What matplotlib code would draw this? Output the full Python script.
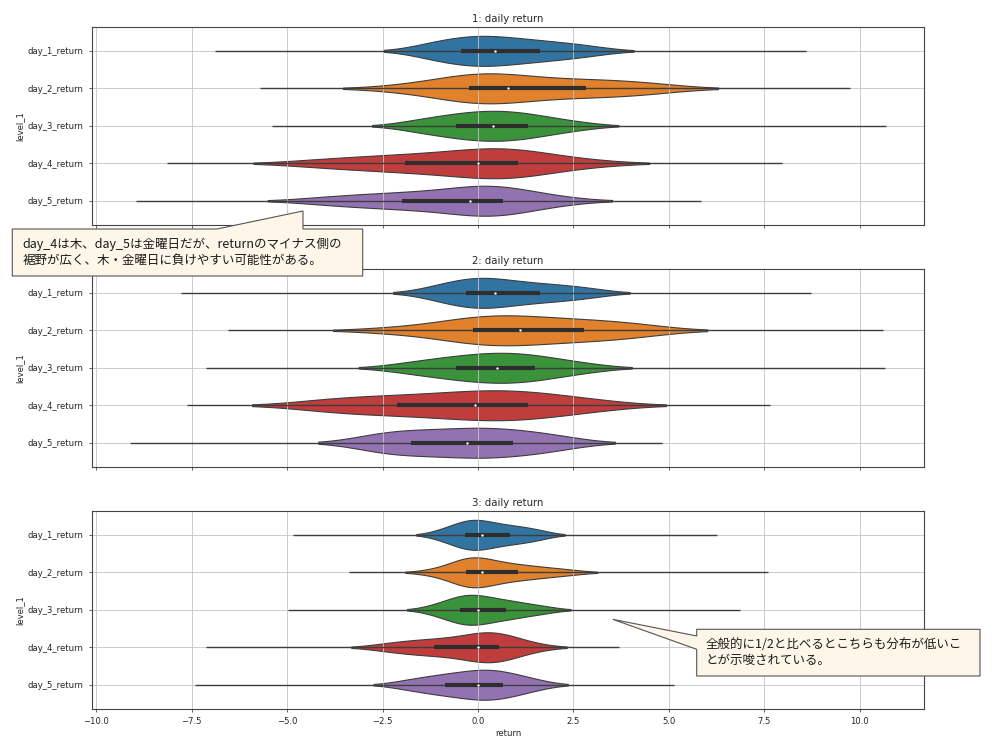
import numpy as np
import pandas as pd
import matplotlib
matplotlib.use("Agg")
import matplotlib.pyplot as plt
import seaborn as sns
from matplotlib.patches import Polygon

days = ["day_1_return", "day_2_return", "day_3_return", "day_4_return", "day_5_return"]
titles = ["1: daily return", "2: daily return", "3: daily return"]

# return at the 0, 5, 10, ..., 100 % quantiles of each day
g1_day_1 = [-6.88, -1.50, -1.15, -0.90, -0.66, -0.44, -0.25, -0.06, 0.11, 0.27, 0.44,
            0.66, 0.88, 1.11, 1.35, 1.61, 1.91, 2.24, 2.60, 3.10, 8.58]
g1_day_2 = [-5.72, -2.10, -1.16, -0.78, -0.49, -0.24, -0.01, 0.20, 0.40, 0.59, 0.78,
            1.16, 1.55, 1.95, 2.37, 2.83, 3.25, 3.70, 4.20, 4.85, 9.75]
g1_day_3 = [-5.41, -1.85, -1.40, -1.08, -0.81, -0.57, -0.36, -0.16, 0.02, 0.20, 0.38,
            0.55, 0.73, 0.91, 1.10, 1.31, 1.54, 1.81, 2.15, 2.75, 10.70]
g1_day_4 = [-8.15, -4.40, -3.55, -2.90, -2.38, -1.91, -1.48, -1.09, -0.72, -0.36, 0.00,
            0.20, 0.40, 0.60, 0.82, 1.05, 1.31, 1.62, 2.10, 3.00, 7.95]
g1_day_5 = [-8.96, -4.20, -3.45, -2.90, -2.42, -1.98, -1.58, -1.22, -0.87, -0.53, -0.20,
            -0.04, 0.12, 0.29, 0.47, 0.66, 0.88, 1.13, 1.55, 2.20, 5.85]

g2_day_1 = [-7.78, -1.30, -0.95, -0.70, -0.49, -0.31, -0.14, 0.01, 0.16, 0.30, 0.44,
            0.66, 0.89, 1.12, 1.37, 1.63, 1.93, 2.25, 2.62, 3.05, 8.72]
g2_day_2 = [-6.56, -2.40, -1.23, -0.79, -0.43, -0.13, 0.14, 0.39, 0.63, 0.86, 1.09,
            1.40, 1.72, 2.05, 2.40, 2.77, 3.15, 3.55, 4.00, 4.60, 10.60]
g2_day_3 = [-7.12, -2.10, -1.55, -1.18, -0.86, -0.59, -0.35, -0.12, 0.09, 0.30, 0.50,
            0.69, 0.87, 1.07, 1.28, 1.50, 1.75, 2.03, 2.40, 3.00, 10.66]
g2_day_4 = [-7.63, -4.30, -3.70, -3.15, -2.63, -2.12, -1.66, -1.24, -0.84, -0.45, -0.07,
            0.19, 0.45, 0.72, 1.01, 1.31, 1.66, 2.06, 2.56, 3.30, 7.66]
g2_day_5 = [-9.13, -3.00, -2.60, -2.30, -2.03, -1.76, -1.43, -1.13, -0.84, -0.56, -0.29,
            -0.06, 0.17, 0.40, 0.65, 0.92, 1.23, 1.55, 1.90, 2.40, 4.83]

g3_day_1 = [-4.86, -1.05, -0.76, -0.59, -0.46, -0.35, -0.25, -0.16, -0.07, 0.02, 0.10,
            0.24, 0.37, 0.51, 0.67, 0.83, 1.01, 1.20, 1.42, 1.70, 6.27]
g3_day_2 = [-3.39, -1.20, -0.68, -0.53, -0.41, -0.31, -0.22, -0.13, -0.05, 0.02, 0.10,
            0.28, 0.46, 0.64, 0.84, 1.05, 1.29, 1.56, 1.91, 2.42, 7.60]
g3_day_3 = [-4.98, -1.25, -0.91, -0.74, -0.60, -0.48, -0.37, -0.27, -0.18, -0.09, 0.00,
            0.14, 0.28, 0.42, 0.58, 0.74, 0.93, 1.14, 1.41, 1.81, 6.86]
g3_day_4 = [-7.12, -2.50, -2.05, -1.72, -1.43, -1.16, -0.90, -0.66, -0.44, -0.22, 0.00,
            0.10, 0.20, 0.31, 0.42, 0.54, 0.67, 0.83, 1.03, 1.50, 3.69]
g3_day_5 = [-7.41, -2.00, -1.60, -1.31, -1.08, -0.86, -0.67, -0.49, -0.32, -0.16, 0.00,
            0.12, 0.25, 0.38, 0.51, 0.66, 0.82, 1.02, 1.26, 1.61, 5.13]

groups = [[g1_day_1, g1_day_2, g1_day_3, g1_day_4, g1_day_5],
          [g2_day_1, g2_day_2, g2_day_3, g2_day_4, g2_day_5],
          [g3_day_1, g3_day_2, g3_day_3, g3_day_4, g3_day_5]]

note_1 = "day_4は木、day_5は金曜日だが、returnのマイナス側の\n裾野が広く、木・金曜日に負けやすい可能性がある。"
note_2 = "全般的に1/2と比べるとこちらも分布が低いこ\nとが示唆されている。"

plt.rcParams.update({
    "font.size": 6.1,
    "axes.titlesize": 7.3,
    "axes.labelsize": 6.1,
    "xtick.labelsize": 6.1,
    "ytick.labelsize": 6.1,
    "xtick.major.size": 2.2,
    "ytick.major.size": 2.2,
    "xtick.major.width": 0.6,
    "ytick.major.width": 0.6,
    "axes.labelpad": 2.4,
    "axes.titlepad": 3.7,
    "axes.linewidth": 0.8,
    "axes.edgecolor": "#444444",
    "text.color": "#262626",
    "axes.labelcolor": "#262626",
    "xtick.color": "#444444",
    "ytick.color": "#444444",
    "xtick.labelcolor": "#262626",
    "ytick.labelcolor": "#262626",
})

fig, axes = plt.subplots(3, 1, figsize=(10.08, 7.46), dpi=100, sharex=True)
fig.subplots_adjust(left=0.091, right=0.917, top=0.964, bottom=0.05, hspace=0.223)

line_color = "#3d3d3d"
pos = np.arange(len(days))
for ax, title, group in zip(axes, titles, groups):
    q = np.array(group)
    df = pd.DataFrame({"level_1": np.repeat(days, q.shape[1] - 2),
                       "return": q[:, 1:-1].ravel()})
    sns.violinplot(data=df, x="return", y="level_1", hue="level_1", legend=False,
                   inner=None, cut=1.5, bw_adjust=0.9, width=0.8, linewidth=0.8,
                   linecolor=line_color, ax=ax)
    # tails (min..max), box (q1..q3) and median
    ax.hlines(pos, q[:, 0], q[:, -1], color=line_color, lw=1.0, zorder=3)
    ax.hlines(pos, q[:, 5], q[:, 15], color="#2e2e2e", lw=3.0, zorder=3)
    ax.scatter(q[:, 10], pos, s=3, color="white", zorder=4, linewidths=0)
    ax.grid(True, color="#c4c4c4", lw=0.6)
    ax.set_title(title)
    ax.set_xlabel("return")
    ax.set_ylabel("level_1")


def to_fig(points):
    return [(x / 1008, 1 - y / 746) for x, y in points]


callout_1 = [(12.3, 229), (217, 229), (303, 211), (303, 229), (362.7, 229),
             (362.7, 276), (12.3, 276)]
callout_2 = [(696.7, 629.3), (980, 629.3), (980, 676), (696.7, 676), (696.7, 649.3),
             (612.7, 619.3), (696.7, 636)]
for shape in (callout_1, callout_2):
    fig.add_artist(Polygon(to_fig(shape), closed=True, transform=fig.transFigure,
                           facecolor="#fdf6e9", edgecolor="#555555", lw=0.8, zorder=5))

cjk = ["Noto Sans CJK JP", "DejaVu Sans"]
fig.text(22.7 / 1008, 1 - 252.5 / 746, note_1, fontsize=9.0, family=cjk,
         va="center", ha="left", linespacing=1.25, color="#1a1a1a", zorder=6)
fig.text(706 / 1008, 1 - 652.5 / 746, note_2, fontsize=9.0, family=cjk,
         va="center", ha="left", linespacing=1.25, color="#1a1a1a", zorder=6)

fig.savefig("out.png", dpi=100)
